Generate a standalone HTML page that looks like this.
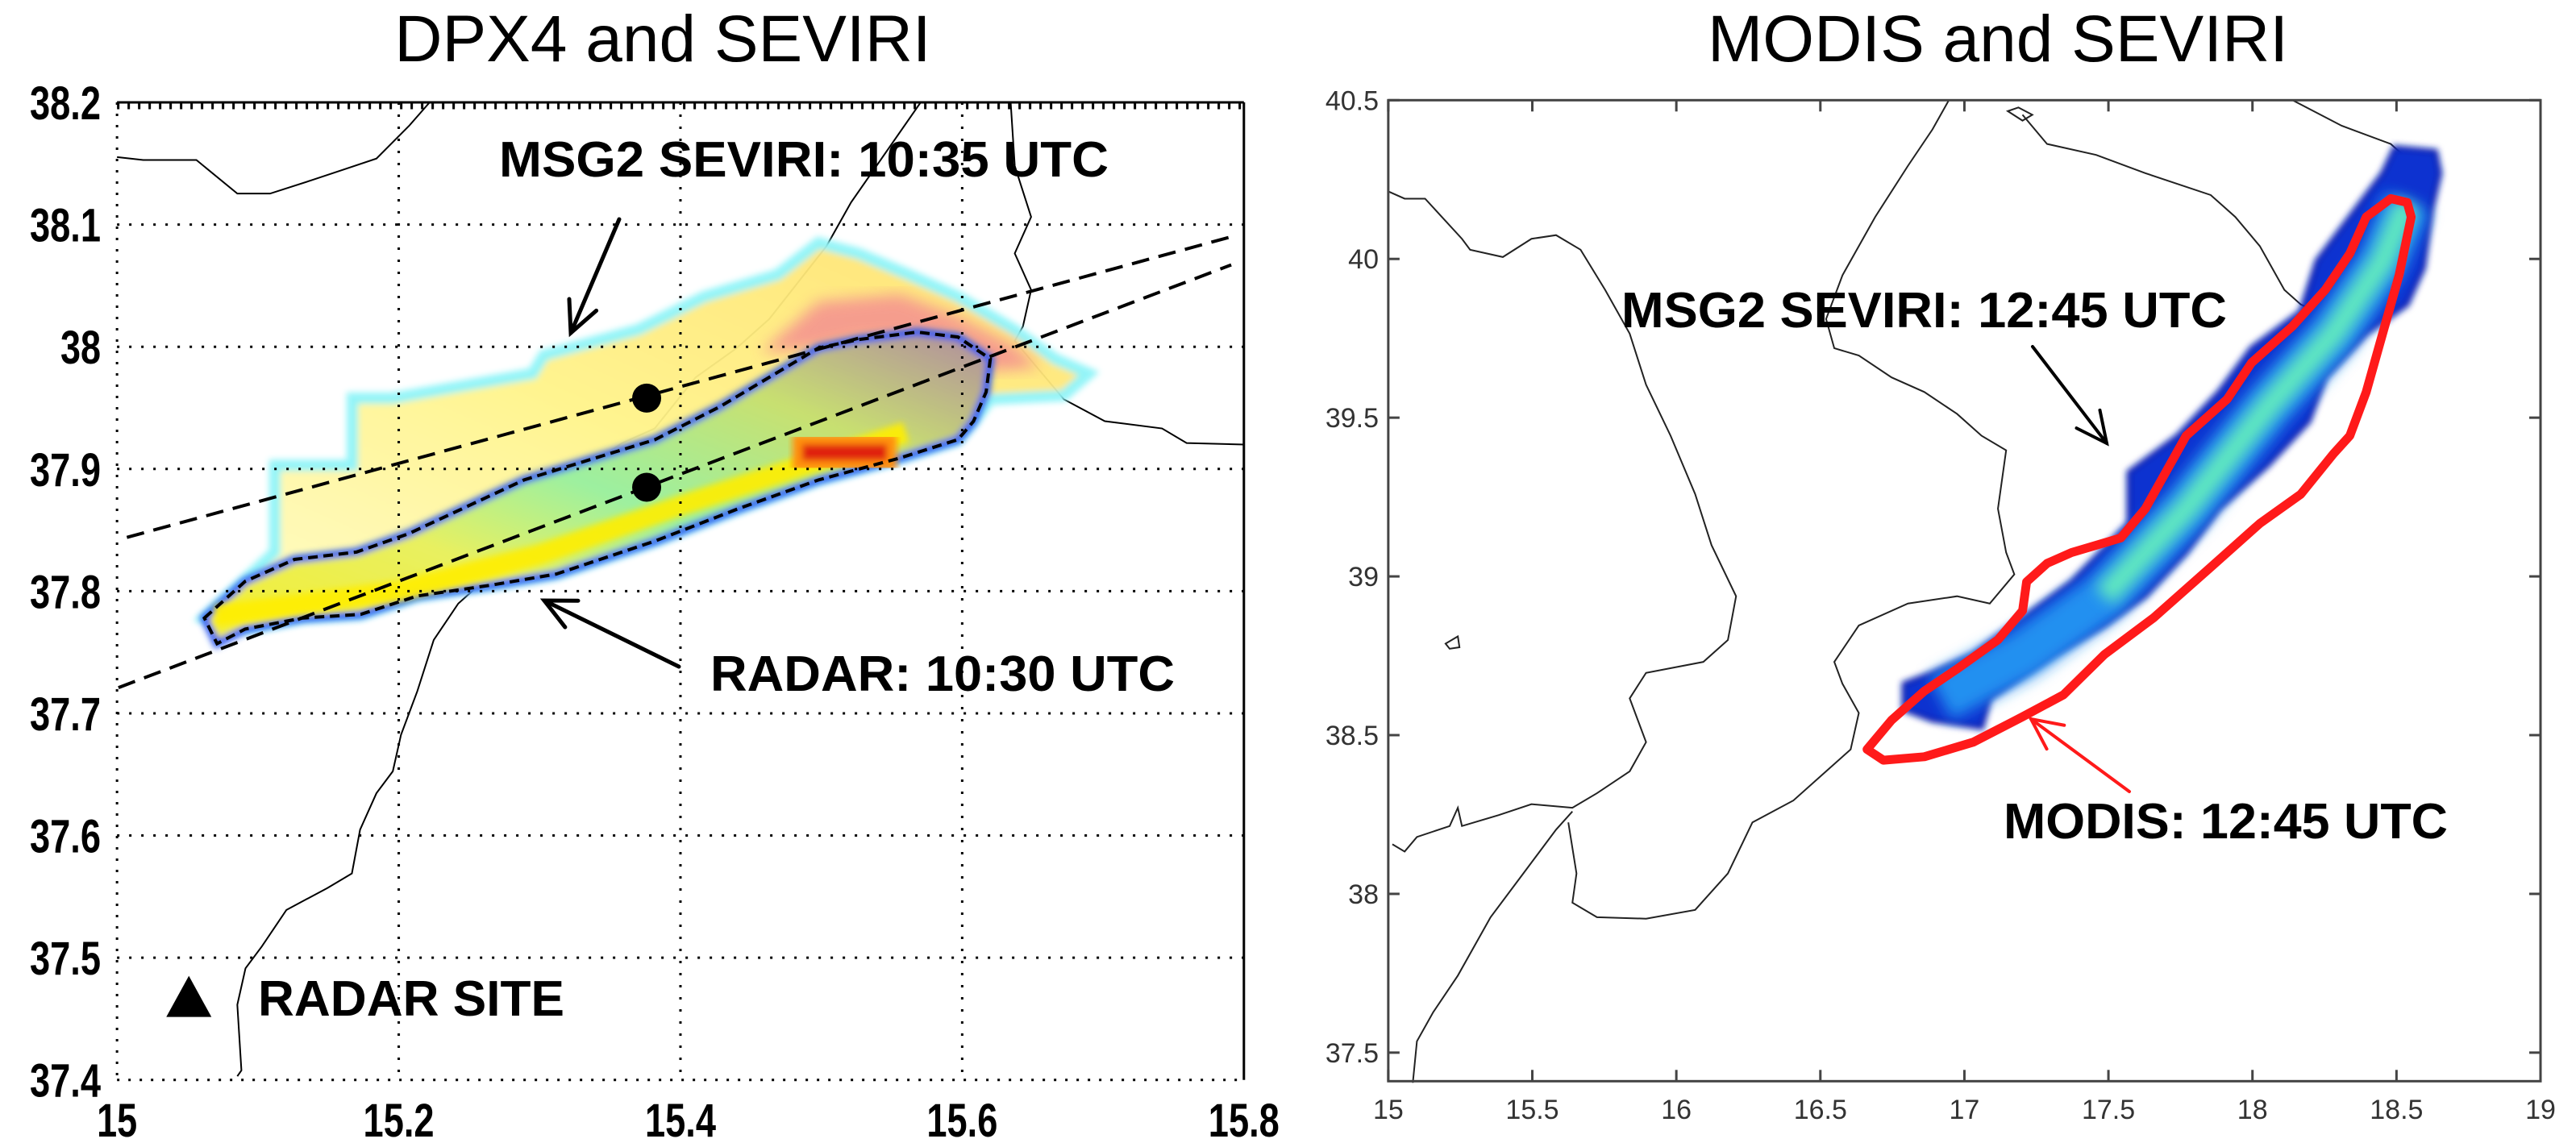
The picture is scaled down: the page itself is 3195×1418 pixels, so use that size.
<!DOCTYPE html>
<html><head><meta charset="utf-8"><style>
html,body{margin:0;padding:0;background:#fff;}
svg{display:block;}
text{font-family:"Liberation Sans",Arial,sans-serif;}
</style></head>
<body>
<svg id="fig" width="3195" height="1418" viewBox="0 0 3195 1418" xmlns="http://www.w3.org/2000/svg">
<defs>
<filter id="soft" x="-10%" y="-10%" width="120%" height="120%"><feGaussianBlur stdDeviation="4"/></filter>
<filter id="soft2" x="-10%" y="-10%" width="120%" height="120%"><feGaussianBlur stdDeviation="9"/></filter>
<linearGradient id="radarGrad" x1="0" y1="1" x2="1" y2="0">
<stop offset="0" stop-color="#f4ee30"/><stop offset="0.3" stop-color="#e8f060"/><stop offset="0.5" stop-color="#9cf0a0"/><stop offset="0.75" stop-color="#c8e070"/><stop offset="1" stop-color="#b08aa0"/>
</linearGradient>
<linearGradient id="sevGrad" x1="0" y1="1" x2="1" y2="0">
<stop offset="0" stop-color="#fffcc8"/><stop offset="0.5" stop-color="#fff48a"/><stop offset="1" stop-color="#ffe070"/>
</linearGradient>
</defs>

<text x="822" y="76" font-size="82" text-anchor="middle">DPX4 and SEVIRI</text>
<text x="2478" y="76" font-size="82" text-anchor="middle">MODIS and SEVIRI</text>

<g id="left"></g>
<g id="right"></g>
</svg>
<script>
// ---------------- LEFT PANEL DATA ----------------
const leftXTicks = [15, 15.2, 15.4, 15.6, 15.8];
const leftXTickLabels = ["15", "15.2", "15.4", "15.6", "15.8"];
const leftYTicks = [38.2, 38.1, 38, 37.9, 37.8, 37.7, 37.6, 37.5, 37.4];
const leftYTickLabels = ["38.2", "38.1", "38", "37.9", "37.8", "37.7", "37.6", "37.5", "37.4"];
const seviriPoints = [[15.376, 37.958], [15.376, 37.885]];
const scanLine1 = [[15.007, 37.844], [15.791, 38.090]];
const scanLine2 = [[15.001, 37.721], [15.791, 38.067]];
const radarSite = [15.051, 37.468];
const radarOutline = [[15.062,37.778],[15.091,37.808],[15.126,37.826],[15.170,37.832],[15.207,37.847],[15.289,37.891],[15.382,37.924],[15.428,37.951],[15.498,37.999],[15.527,38.006],[15.568,38.012],[15.597,38.008],[15.620,37.990],[15.617,37.963],[15.608,37.939],[15.597,37.924],[15.556,37.909],[15.498,37.891],[15.440,37.867],[15.382,37.841],[15.312,37.814],[15.266,37.805],[15.213,37.796],[15.173,37.781],[15.132,37.778],[15.091,37.769],[15.071,37.757]];
const seviriPlume = [[15.112,37.832],[15.112,37.903],[15.167,37.903],[15.167,37.958],[15.196,37.958],[15.295,37.978],[15.303,37.993],[15.370,38.014],[15.417,38.041],[15.469,38.059],[15.498,38.085],[15.527,38.076],[15.562,38.059],[15.597,38.041],[15.637,38.014],[15.666,37.990],[15.690,37.978],[15.672,37.960],[15.620,37.957],[15.608,37.939],[15.597,37.924],[15.556,37.909],[15.498,37.891],[15.440,37.867],[15.382,37.841],[15.312,37.814],[15.266,37.805],[15.213,37.796],[15.173,37.781],[15.132,37.778],[15.091,37.769],[15.062,37.778]];
const plumeHot = [[15.457,37.995],[15.498,38.037],[15.556,38.043],[15.597,38.025],[15.637,38.001],[15.655,37.983],[15.620,37.980],[15.597,38.008],[15.527,38.006],[15.498,37.999]];
const redCore = [[15.483,37.924],[15.550,37.924],[15.550,37.903],[15.483,37.903]];
const yellowBand = [[15.07,37.78],[15.20,37.80],[15.30,37.83],[15.40,37.87],[15.48,37.90],[15.56,37.93]];

// ---------------- RIGHT PANEL DATA ----------------
const rightXTicks = [15, 15.5, 16, 16.5, 17, 17.5, 18, 18.5, 19];
const rightXTickLabels = ["15","15.5","16","16.5","17","17.5","18","18.5","19"];
const rightYTicks = [40.5, 40, 39.5, 39, 38.5, 38, 37.5];
const rightYTickLabels = ["40.5","40","39.5","39","38.5","38","37.5"];
const modisOutline = [[16.662,38.455],[16.719,38.421],[16.861,38.432],[17.031,38.478],[17.202,38.558],[17.344,38.627],[17.486,38.754],[17.656,38.869],[17.855,39.029],[18.026,39.167],[18.168,39.259],[18.281,39.386],[18.338,39.443],[18.395,39.581],[18.452,39.765],[18.509,39.949],[18.551,40.132],[18.537,40.178],[18.480,40.190],[18.395,40.132],[18.338,40.017],[18.253,39.903],[18.139,39.788],[17.997,39.673],[17.912,39.558],[17.770,39.443],[17.713,39.351],[17.628,39.213],[17.543,39.121],[17.372,39.075],[17.287,39.041],[17.216,38.983],[17.202,38.892],[17.116,38.800],[16.974,38.708],[16.861,38.639],[16.747,38.547]];
const seviriBand = [[16.790,38.662],[16.889,38.696],[17.031,38.754],[17.202,38.869],[17.372,38.983],[17.571,39.167],[17.571,39.328],[17.741,39.443],[17.884,39.581],[17.997,39.719],[18.168,39.834],[18.224,39.994],[18.338,40.132],[18.452,40.270],[18.494,40.351],[18.636,40.339],[18.651,40.270],[18.622,40.155],[18.594,39.972],[18.537,39.857],[18.395,39.765],[18.253,39.627],[18.196,39.489],[18.054,39.351],[17.884,39.213],[17.770,39.075],[17.628,38.938],[17.486,38.846],[17.315,38.754],[17.088,38.616],[17.060,38.524],[16.889,38.547],[16.790,38.581]];
const seviriCore = [[16.918,38.616],[17.202,38.754],[17.486,38.938],[17.770,39.213],[18.054,39.535],[18.281,39.765],[18.452,39.994],[18.537,40.178]];

// ---------------- SCALES ----------------
const LX = lon => 1.015 * (143 + (lon - 15) * 1721.25);
const LY = lat => 0.905 * (143 + (38.2 - lat) * 1675) - 2.4;
const RX = lon => 1595 + 1.015 * (125 + (lon - 15) * 352);
const RY = lat => 0.905 * (140 + (40.5 - lat) * 435.2) - 2.4;

const NS = "http://www.w3.org/2000/svg";
function mk(tag, parent, attrs) {
  const e = document.createElementNS(NS, tag);
  for (const k in attrs) e.setAttribute(k, attrs[k]);
  parent.appendChild(e);
  return e;
}
const pts = (arr, X, Y) => arr.map(p => X(p[0]).toFixed(1) + "," + Y(p[1]).toFixed(1)).join(" ");
const labW = s => [...s].reduce((a, c) => a + (c === "." ? 13 : 25), 0);

// ================= LEFT =================
const L = document.getElementById("left");
const lx0 = LX(15), lx1 = LX(15.8), ly0 = LY(38.2), ly1 = LY(37.4);

const lc = mk("g", L, {transform: "translate(0,-2.4) scale(1.015,0.905)", fill: "none", stroke: "#000", "stroke-width": "2"});


["M143,218 L175,222 240,222 290,268 330,268 380,250 420,235 460,220 500,175 525,143",
 "M1125,143 L1040,280 1010,340 940,440 900,480 850,520 800,590 760,610 720,640 670,680 660,710 640,740 610,770 590,800 560,830 530,880 510,950 490,1010 480,1060 460,1090 440,1140 430,1200 400,1220 350,1250 320,1300 300,1330 290,1380 295,1470 290,1478",
 "M1235,143 L1240,230 1260,300 1240,350 1260,400 1250,450 1240,470 1300,550 1350,580 1420,590 1450,610 1520,612"].forEach(d => {
  const p = mk("path", lc, {d: d, "vector-effect": "non-scaling-stroke"});
  
  
});

const pl = mk("polygon", L, {points: pts(seviriPlume, LX, LY), fill: "url(#sevGrad)", stroke: "#8ef4f8", "stroke-width": "14", filter: "url(#soft)", opacity: "0.95"});


const ph = mk("polygon", L, {points: pts(plumeHot, LX, LY), fill: "#f49090", filter: "url(#soft2)", opacity: "0.85"});



const rf = mk("polygon", L, {points: pts(radarOutline, LX, LY), fill: "url(#radarGrad)", stroke: "#2a5af0", "stroke-width": "10", filter: "url(#soft)"});


const yb = mk("polyline", L, {points: pts(yellowBand, LX, LY), fill: "none", stroke: "#ffee00", "stroke-width": "26", filter: "url(#soft)", opacity: "0.9"});


const rc = mk("polygon", L, {points: pts(redCore, LX, LY), fill: "#e02010", stroke: "#ff9010", "stroke-width": "12", filter: "url(#soft)"});


const ro = mk("polygon", L, {points: pts(radarOutline, LX, LY), fill: "none", stroke: "#000", "stroke-width": "4", "stroke-dasharray": "12 7"});



leftXTicks.slice(1, -1).forEach(v => {
  const g = mk("line", L, {x1: LX(v), x2: LX(v), y1: ly0, y2: ly1, stroke: "#000", "stroke-width": "3", "stroke-dasharray": "3 12"});
  
  
});
leftYTicks.slice(1, -1).forEach(v => {
  const g = mk("line", L, {x1: lx0, x2: lx1, y1: LY(v), y2: LY(v), stroke: "#000", "stroke-width": "3", "stroke-dasharray": "3 12"});
  
  
});
const ft = mk("line", L, {x1: lx0, x2: lx1, y1: ly0, y2: ly0, stroke: "#000", "stroke-width": "3"});
 
const fr = mk("line", L, {x1: lx1, x2: lx1, y1: ly0, y2: ly1, stroke: "#000", "stroke-width": "3"});
 
const fl = mk("line", L, {x1: lx0, x2: lx0, y1: ly0, y2: ly1, stroke: "#000", "stroke-width": "3", "stroke-dasharray": "3 11"});
 
const fb = mk("line", L, {x1: lx0, x2: lx1, y1: ly1, y2: ly1, stroke: "#000", "stroke-width": "3", "stroke-dasharray": "3 11"});
 
const comb = mk("line", L, {x1: lx0, x2: lx1, y1: ly0 + 5, y2: ly0 + 5, stroke: "#000", "stroke-width": "7", "stroke-dasharray": "3 10"});
 

[scanLine1, scanLine2].forEach(s => {
  const l = mk("line", L, {x1: LX(s[0][0]), y1: LY(s[0][1]), x2: LX(s[1][0]), y2: LY(s[1][1]), stroke: "#000", "stroke-width": "4", "stroke-dasharray": "22 12"});
  
  
});
seviriPoints.forEach(p => {
  const c = mk("circle", L, {cx: LX(p[0]), cy: LY(p[1]), r: "18", fill: "#000"});
  
  
});
const tx = LX(radarSite[0]), ty = LY(radarSite[1]);
const tri = mk("polygon", L, {points: `${tx},${ty-26} ${tx-28},${ty+25} ${tx+28},${ty+25}`, fill: "#000"});



leftXTicks.forEach((v, i) => {
  const s = leftXTickLabels[i];
  const t = mk("text", L, {x: LX(v), y: 1410, "font-size": "58", "font-weight": "bold", "text-anchor": "middle", textLength: labW(s), lengthAdjust: "spacingAndGlyphs"});
  t.textContent = s;
  
  
});
leftYTicks.forEach((v, i) => {
  const s = leftYTickLabels[i];
  const t = mk("text", L, {x: 125 - labW(s), y: LY(v) + 21, "font-size": "58", "font-weight": "bold", textLength: labW(s), lengthAdjust: "spacingAndGlyphs"});
  t.textContent = s;
  
  
});

function ann(parent, txt, x, y, w, name, fill) {
  const t = mk("text", parent, {x: x, y: y, "font-size": "62", "font-weight": "bold", textLength: w, lengthAdjust: "spacingAndGlyphs", fill: fill || "#000"});
  t.textContent = txt;
  
  
}
function arrow(parent, x1, y1, x2, y2, col, w, name) {
  const g = mk("g", parent, {stroke: col, "stroke-width": w, fill: "none", "stroke-linecap": "round"});
  
  
  mk("line", g, {x1: x1, y1: y1, x2: x2, y2: y2});
  const a = Math.atan2(y2 - y1, x2 - x1), h = 42;
  mk("polyline", g, {points: `${x2 - h*Math.cos(a-0.45)},${y2 - h*Math.sin(a-0.45)} ${x2},${y2} ${x2 - h*Math.cos(a+0.45)},${y2 - h*Math.sin(a+0.45)}`});
}
ann(L, "MSG2 SEVIRI: 10:35 UTC", 619, 219, 756, "seviri-label");
ann(L, "RADAR: 10:30 UTC", 881, 857, 576, "radar-label");
ann(L, "RADAR SITE", 320, 1260, 380, "radar-site-label");
arrow(L, 768, 272, 708, 413, "#000", 5, "seviri-arrow");
arrow(L, 842, 827, 675, 745, "#000", 5, "radar-arrow");

// ================= RIGHT =================
const R = document.getElementById("right");
const rx0 = RX(15), rx1 = RX(19), ry0 = RY(40.5), ry1 = RY(37.41);

const rcg = mk("g", R, {transform: "translate(1595,-2.4) scale(1.015,0.905)", fill: "none", stroke: "#222", "stroke-width": "2"});


["M125,265 L145,275 170,275 215,330 225,345 265,355 300,330 330,325 360,345 390,400 420,460 440,530 470,600 500,680 520,750 550,820 540,880 510,910 440,925 420,960 440,1020 420,1060 380,1090 350,1110 300,1105 260,1120 215,1135 210,1110 200,1135 160,1150 145,1170 130,1160",
 "M350,1115 L330,1140 290,1200 250,1260 210,1340 180,1390 160,1430 155,1487",
 "M345,1130 L355,1200 350,1240 380,1260 440,1262 500,1250 540,1200 570,1130 620,1100 660,1060 690,1030 700,980 680,940 670,910 700,860 760,830 820,820 860,830 890,790 880,760 870,700 880,620 850,600 820,570 780,540 740,520 700,490 670,480 660,440 680,380 720,300 760,230 790,180 810,140",
 "M900,160 L930,200 990,215 1050,240 1130,270 1160,300 1190,340 1200,360 1220,400 1240,420 1260,430 1300,430 1310,400 1330,360 1340,340 1350,275 1380,230 1350,200 1290,175 1230,140",
 "M882,155 L895,150 912,160 900,168 Z",
 "M195,885 L210,875 212,890 200,892 Z"].forEach(d => {
  const p = mk("path", rcg, {d: d, "vector-effect": "non-scaling-stroke"});
  
  
});

const sb = mk("polygon", R, {points: pts(seviriBand, RX, RY), fill: "#1030d0", stroke: "#0a20b0", "stroke-width": "6", filter: "url(#soft)"});


const sc1 = mk("polyline", R, {points: pts(seviriCore, RX, RY), fill: "none", stroke: "#2090f0", "stroke-width": "60", "stroke-linejoin": "round", filter: "url(#soft2)"});


const sc2 = mk("polyline", R, {points: pts(seviriCore.slice(2), RX, RY), fill: "none", stroke: "#60e8c0", "stroke-width": "30", "stroke-linejoin": "round", filter: "url(#soft2)"});


const mo = mk("polygon", R, {points: pts(modisOutline, RX, RY), fill: "none", stroke: "#ff1a1a", "stroke-width": "11", "stroke-linejoin": "round"});



const rfr = mk("rect", R, {x: rx0, y: ry0, width: rx1 - rx0, height: ry1 - ry0, fill: "none", stroke: "#444", "stroke-width": "3"});


rightXTicks.forEach((v, i) => {
  const x = RX(v);
  const a = mk("line", R, {x1: x, x2: x, y1: ry1, y2: ry1 - 14, stroke: "#444", "stroke-width": "3"});
   
  const b = mk("line", R, {x1: x, x2: x, y1: ry0, y2: ry0 + 14, stroke: "#444", "stroke-width": "3"});
   
  const t = mk("text", R, {x: x, y: 1388, "font-size": "34", "text-anchor": "middle", fill: "#333"});
  t.textContent = rightXTickLabels[i];
  
  
});
rightYTicks.forEach((v, i) => {
  const y = RY(v);
  const a = mk("line", R, {x1: rx0, x2: rx0 + 14, y1: y, y2: y, stroke: "#444", "stroke-width": "3"});
   
  const b = mk("line", R, {x1: rx1, x2: rx1 - 14, y1: y, y2: y, stroke: "#444", "stroke-width": "3"});
   
  const t = mk("text", R, {x: 1710, y: y + 12, "font-size": "34", "text-anchor": "end", fill: "#333"});
  t.textContent = rightYTickLabels[i];
  
  
});

ann(R, "MSG2 SEVIRI: 12:45 UTC", 2011, 406, 751, "seviri-label");
ann(R, "MODIS: 12:45 UTC", 2485, 1040, 551, "modis-label");
arrow(R, 2521, 430, 2613, 550, "#000", 4, "seviri-arrow");
arrow(R, 2641, 982, 2519, 892, "#ff1a1a", 4, "modis-arrow");
</script>
</body></html>
